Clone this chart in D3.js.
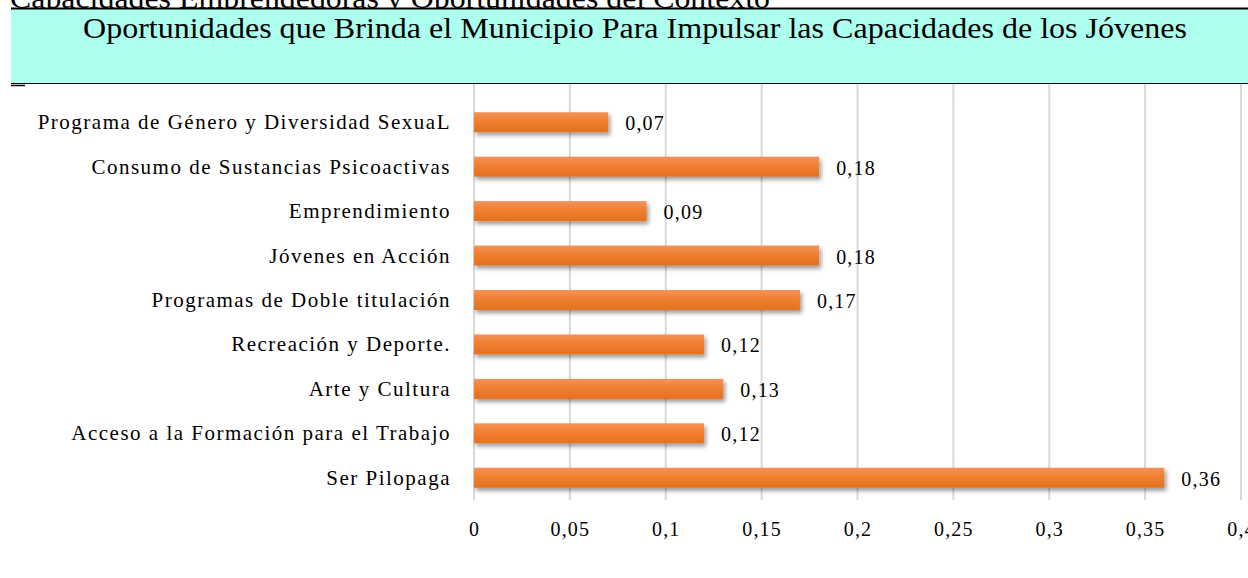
<!DOCTYPE html>
<html><head><meta charset="utf-8">
<script src="https://cdn.jsdelivr.net/npm/d3@7"></script>
<style>body{margin:0;background:#fff}svg{display:block}</style>
</head><body>
<svg id="c" width="1248" height="578"></svg>
<script>
const categories = ["Programa de Género y Diversidad SexuaL","Consumo de Sustancias Psicoactivas","Emprendimiento","Jóvenes en Acción","Programas de Doble titulación","Recreación y Deporte.","Arte y Cultura","Acceso a la Formación para el Trabajo","Ser Pilopaga"];
const values = [0.07,0.18,0.09,0.18,0.17,0.12,0.13,0.12,0.36];
const valueLabels = ["0,07","0,18","0,09","0,18","0,17","0,12","0,13","0,12","0,36"];
const ticks = [0,0.05,0.1,0.15,0.2,0.25,0.3,0.35,0.4];
const tickLabels = ["0","0,05","0,1","0,15","0,2","0,25","0,3","0,35","0,4"];
const title = "Oportunidades que Brinda el Municipio Para Impulsar las Capacidades de los Jóvenes";
const topText = "Capacidades Emprendedoras y Oportunidades del Contexto";

const svg = d3.select("#c");
const serif = "'Liberation Serif','Times New Roman',serif";
const x = d3.scaleLinear().domain([0,0.4]).range([474,1241]);
const y = d3.scaleBand().domain(categories).range([100,500]).paddingInner(0.55).paddingOuter(0.275);

const defs = svg.append("defs");
const g = defs.append("linearGradient").attr("id","og").attr("x1",0).attr("y1",0).attr("x2",0).attr("y2",1);
g.append("stop").attr("offset","0%").attr("stop-color","#F59259");
g.append("stop").attr("offset","45%").attr("stop-color","#F07F30");
g.append("stop").attr("offset","100%").attr("stop-color","#E2711F");
const f = defs.append("filter").attr("id","sh").attr("x","-5%").attr("y","-30%").attr("width","115%").attr("height","190%");
f.append("feDropShadow").attr("dx",2).attr("dy",3).attr("stdDeviation",2).attr("flood-color","#000").attr("flood-opacity",0.4);

// top clipped text
svg.append("text").attr("x",10).attr("y",7.5).attr("font-family",serif).attr("font-size",30)
  .attr("textLength",760).attr("lengthAdjust","spacingAndGlyphs").attr("fill","#000").text(topText);

// gridlines
svg.append("g").selectAll("line").data(ticks).join("line")
  .attr("x1",d=>x(d)).attr("x2",d=>x(d)).attr("y1",84).attr("y2",500)
  .attr("stroke","#d9d9d9").attr("stroke-width",2);

// title box
svg.append("rect").attr("x",11).attr("y",8).attr("width",1250).attr("height",75).attr("fill","#ADFFEE");
svg.append("line").attr("x1",11).attr("x2",1248).attr("y1",8.5).attr("y2",8.5).attr("stroke","#000").attr("stroke-width",2);
svg.append("line").attr("x1",11).attr("x2",1248).attr("y1",83.5).attr("y2",83.5).attr("stroke","#000").attr("stroke-width",1.2);
svg.append("line").attr("x1",11).attr("x2",25).attr("y1",85.5).attr("y2",85.5).attr("stroke","#000").attr("stroke-width",1.5);
svg.append("text").attr("x",83).attr("y",38).attr("font-family",serif).attr("font-size",29)
  .attr("textLength",1104).attr("lengthAdjust","spacingAndGlyphs").attr("fill","#000").text(title);

// bars
svg.append("g").selectAll("rect").data(values).join("rect")
  .attr("x",x(0)).attr("y",(d,i)=>y(categories[i])).attr("width",d=>x(d)-x(0)).attr("height",y.bandwidth())
  .attr("fill","url(#og)").attr("filter","url(#sh)");

// value labels
svg.append("g").selectAll("text").data(values).join("text")
  .attr("x",d=>x(d)+17).attr("y",(d,i)=>y(categories[i])+y.bandwidth()/2+8)
  .attr("font-family",serif).attr("font-size",20).attr("letter-spacing",1.2).attr("fill","#000").text((d,i)=>valueLabels[i]);

// category labels
svg.append("g").selectAll("text").data(categories).join("text")
  .attr("x",451).attr("y",d=>y(d)+y.bandwidth()/2+7)
  .attr("text-anchor","end").attr("font-family",serif).attr("font-size",21).attr("letter-spacing",1.5).attr("fill","#000").text(d=>d);

// x tick labels
const ax = d3.axisBottom(x).tickValues(ticks).tickFormat((d,i)=>tickLabels[i]).tickSize(0).tickPadding(0);
const axg = svg.append("g").attr("transform","translate(0,522)").call(ax);
axg.select(".domain").remove();
axg.selectAll("text").attr("font-family",serif).attr("font-size",20).attr("letter-spacing",1.2).attr("fill","#000");
</script>
</body></html>
